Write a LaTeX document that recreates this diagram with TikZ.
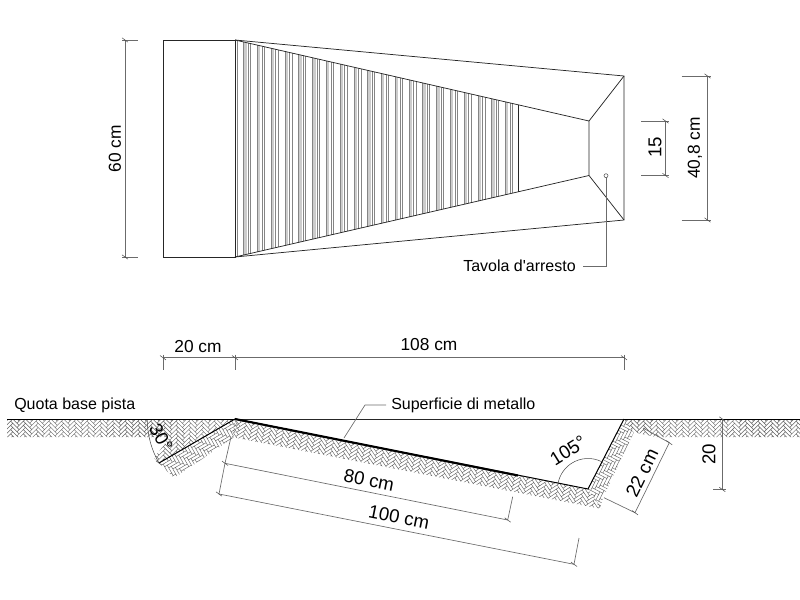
\documentclass[tikz,border=0pt]{standalone}
\usepackage{fontspec}
\setmainfont{Liberation Sans}
\definecolor{dimc}{gray}{0.42}
\definecolor{hatchc}{gray}{0.38}
\tikzset{
 edge/.style={draw=black!85,line width=0.55pt},
 ground/.style={draw=black,line width=0.75pt},
 metal/.style={draw=black,line width=1.6pt},
 dimline/.style={draw=dimc,line width=0.5pt},
 tickm/.style={draw=black!70,line width=0.4pt},
 lab/.style={inner sep=0pt,font=\fontsize{12pt}{14pt}\selectfont},
 labd/.style={inner sep=0pt,font=\fontsize{13pt}{15pt}\selectfont},
 labs/.style={inner sep=0pt,font=\fontsize{14pt}{16pt}\selectfont},
 strip/.style={draw=black!48,line width=0.42pt},
 band/.style={fill=black!20,draw=none},
 hatchline/.style={draw=hatchc,line width=0.32pt}
}
\newcommand{\dimtick}[1]{\draw[tickm] (#1)+(-3,-2.2) -- +(3,2.2);}
% herringbone: #1 origin, #2 angle, #3 i range, #4 j range
\newcommand{\herring}[4]{%
 \begin{scope}[shift={(#1)},rotate=#2]
  \path[hatchline] \foreach \i in {#3}{\foreach \j in {#4}{
    ({\i*3+\j*9},{\i*3-\j*9}) rectangle ++(9,3)
    ({\i*3+\j*9},{\i*3-\j*9+3}) rectangle ++(3,9)
  }};
 \end{scope}}
\begin{document}
\begin{tikzpicture}[x=0.75pt,y=-0.75pt]
\useasboundingbox (0,0) rectangle (800,600);
% ---------- plan view
\coordinate (A) at (163,40); \coordinate (B) at (235,40);
\coordinate (C) at (235,257); \coordinate (D) at (163,257);
\coordinate (E) at (624,76); \coordinate (F) at (624,220);
\coordinate (G) at (589,121); \coordinate (H) at (589,175.5);
\coordinate (I) at (518,104.8); \coordinate (J) at (518,192);
\begin{scope}
 \clip (B) -- (I) -- (J) -- (C) -- cycle;
 \foreach \k in {0,...,19}{
  \pgfmathsetmacro{\xa}{243.6+13.78*\k}
  \fill[band] (\xa,30) rectangle (\xa+3,270);
  \draw[strip] (\xa,30) -- (\xa,270);
  \draw[strip] (\xa+4.6,30) -- (\xa+4.6,270);
  \draw[strip] (\xa+7,30) -- (\xa+7,270);
 }
 \draw[strip] (237.5,30) -- (237.5,270);
\end{scope}
\draw[edge] (B) -- (A) -- (D) -- (C) -- cycle;
\draw[edge] (B) -- (E) -- (F) -- (C);
\draw[edge] (B) -- (G) -- (H) -- (C);
\draw[edge] (E) -- (G) (F) -- (H);
\draw[edge] (I) -- (J);
% dims plan
\coordinate (d60a) at (125,40); \coordinate (d60b) at (125,257);
\coordinate (e60a) at (138,40); \coordinate (e60b) at (138,257);
\draw[dimline] (d60a) -- (d60b); \draw[dimline] (122,40) -- (e60a); \draw[dimline] (122,257) -- (e60b);
\dimtick{d60a}\dimtick{d60b}
\node[labd,rotate=90] (t60) at (115,148.5) {60 cm};
\coordinate (d15a) at (665.5,121); \coordinate (d15b) at (665.5,175.5);
\coordinate (e15a) at (641,121); \coordinate (e15b) at (641,175.5);
\draw[dimline] (d15a) -- (d15b); \draw[dimline] (e15a) -- (669,121); \draw[dimline] (e15b) -- (669,175.5);
\dimtick{d15a}\dimtick{d15b}
\node[labs,rotate=90] (t15) at (655,147) {15};
\coordinate (d40a) at (707.5,76); \coordinate (d40b) at (707.5,220);
\coordinate (e40a) at (681.5,76); \coordinate (e40b) at (681.5,220);
\draw[dimline] (d40a) -- (d40b); \draw[dimline] (e40a) -- (711,76); \draw[dimline] (e40b) -- (711,220);
\dimtick{d40a}\dimtick{d40b}
\node[labd,rotate=90] (t40) at (695,148) {40,8 cm};
% Tavola
\node[circle,draw=black!70,line width=0.4pt,inner sep=0pt,minimum size=3pt] (circ) at (606,175.7) {};
\node[lab,anchor=east] (tav) at (576,266) {Tavola d\textquotesingle arresto};
\coordinate (tavc) at (606,266.7); \coordinate (tavl) at (583,266.7);
\draw[dimline] (circ) -- (tavc) -- (tavl);
% width dims
\coordinate (w1) at (163,357.7); \coordinate (w2) at (235,357.7); \coordinate (w3) at (624,357.7);
\draw[dimline] (w1) -- (w2) -- (w3);
\draw[dimline] (w1)++(0,-3) -- (163,370); \draw[dimline] (w2)++(0,-3) -- (235,370); \draw[dimline] (w3)++(0,-3) -- (624,370);
\dimtick{w1}\dimtick{w2}\dimtick{w3}
\node[labd] (t20) at (198,346.5) {20 cm};
\node[labd] (t108) at (429,345) {108 cm};
% ---------- section
\coordinate (S0) at (7,419); \coordinate (S1) at (235,419); \coordinate (S2) at (159,463);
\coordinate (S3) at (588,489); \coordinate (S4) at (624,419); \coordinate (S5) at (800,419);
\coordinate (S6) at (518,475.5);
\begin{scope}
 \clip (S0) -- (S1) -- (S2) -- (154,458) -- (170,437) -- (7,437) -- cycle;
 \herring{0,419}{-45}{-6,...,9}{-1,...,20}
\end{scope}
\begin{scope}
 \clip (S1) -- (S2) -- (174,478) -- (233,438) -- (238,425) -- cycle;
 \herring{159,463}{30}{-8,...,24}{-5,...,9}
\end{scope}
\begin{scope}
 \clip (S1) -- (S3) -- (602,509) -- (232,437) -- cycle;
 \herring{235,419}{-56.2}{-7,...,12}{-2,...,32}
\end{scope}
\begin{scope}
 \clip (S3) -- (S4) -- (634,432) -- (603,498) -- (600,508) -- cycle;
 \herring{588,489}{62.8}{-8,...,24}{-5,...,9}
\end{scope}
\begin{scope}
 \clip (S4) -- (S5) -- (800,437) -- (656,437) -- (633,432) -- cycle;
 \herring{620,419}{-45}{-6,...,9}{-1,...,16}
\end{scope}
\draw[ground] (S0) -- (S1) (S4) -- (S5);
\draw[edge] (S1) -- (S4);
\draw[ground] (S2) -- (S1) -- (S3) -- (S4);
\draw[metal] (S1) -- (S6);
\node[lab,anchor=west] (tq) at (14,405) {Quota base pista};
\node[lab,anchor=west] (tm) at (391,405) {Superficie di metallo};
\coordinate (ml1) at (365,405); \coordinate (ml2) at (344,438);
\draw[dimline] (tm.west)++(-5,0) -- (ml1) -- (ml2);
% 30 deg
\draw[tickm] (S2) arc[start angle=210,end angle=181,radius=66pt];
\dimtick{S2}
\node[labs,rotate=-60] (t30) at (161,438) {30°};
% 105
\coordinate (a105) at (601.7,461.7);
\draw[tickm] (a105) arc[start angle=63.4,end angle=168.8,radius=22.9pt];
\node[labs,rotate=32] (t105) at (568,450.5) {105°};
% 80 / 100
\coordinate (d80a) at (225,463.3); \coordinate (d80b) at (507.7,520);
\coordinate (d80c) at (231,437); \coordinate (d80d) at (512.7,496.7);
\coordinate (d100a) at (219,494); \coordinate (d100b) at (574,564.3);
\coordinate (d100c) at (579,538);
\draw[dimline] (d80a) -- (d80b); \draw[dimline] (d80c) -- (d80a) -- (d100a) -- (d100b) -- (d100c);
\draw[dimline] (d80b) -- (d80d);
\dimtick{d80a}\dimtick{d80b}\dimtick{d100a}\dimtick{d100b}
\node[labs,rotate=-11.2] (t80) at (369,480) {80 cm};
\node[labs,rotate=-11.2] (t100) at (399,517.5) {100 cm};
% 22
\coordinate (d22a) at (669.3,442.7); \coordinate (d22b) at (635,512.7);
\coordinate (d22c) at (643,428); \coordinate (d22d) at (604,497.7);
\draw[dimline] (d22c) -- (d22a) -- (d22b) -- (d22d);
\dimtick{d22a}\dimtick{d22b}
\node[labs,rotate=64] (t22) at (642,473) {22 cm};
% 20
\coordinate (d20a) at (722.3,419); \coordinate (d20b) at (722.3,489.5);
\draw[dimline] (d20a) -- (d20b); \draw[dimline] (713,489.5) -- (725.5,489.5);
\dimtick{d20a}\dimtick{d20b}
\node[labs,rotate=90] (t20v) at (709,454) {20};
\end{tikzpicture}
\end{document}
